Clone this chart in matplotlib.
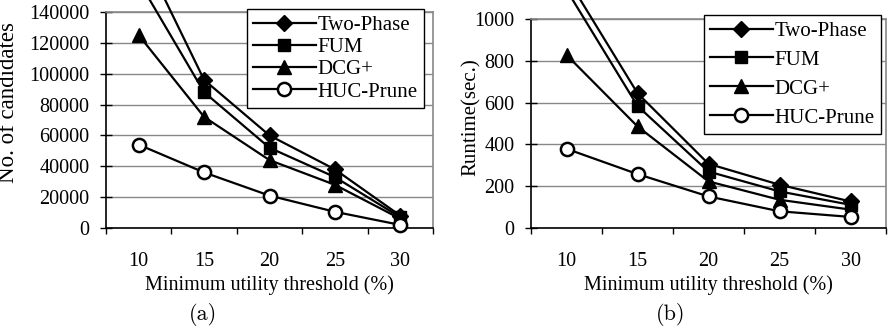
import matplotlib
matplotlib.use("Agg")
import matplotlib.pyplot as plt

thresholds = ["10", "15", "20", "25", "30"]
series_names = ["Two-Phase", "FUM", "DCG+", "HUC-Prune"]

# no. of candidates (panel a)
cand_two_phase = [183000, 96000, 60000, 38000, 8000]
cand_fum = [160000, 88000, 52000, 33000, 7000]
cand_dcg = [125000, 72000, 44000, 28000, 6000]
cand_huc = [54000, 36000, 21000, 10500, 2000]

# runtime in seconds (panel b)
rt_two_phase = [1200, 645, 307, 207, 127]
rt_fum = [1140, 584, 270, 175, 111]
rt_dcg = [828, 486, 223, 135, 88]
rt_huc = [379, 258, 151, 80, 53]

plt.rcParams['font.family'] = ['Liberation Serif', 'DejaVu Serif']

markers = [
    dict(marker='D', markersize=8, markerfacecolor='black'),
    dict(marker='s', markersize=9, markerfacecolor='black'),
    dict(marker='^', markersize=10, markerfacecolor='black'),
    dict(marker='o', markersize=9.5, markerfacecolor='white', markeredgewidth=1.8),
]

fig = plt.figure(figsize=(8.88, 3.35), dpi=100)
ax1 = fig.add_axes([106 / 888, 107 / 335, 327 / 888, 216 / 335])
ax2 = fig.add_axes([531 / 888, 107 / 335, 355 / 888, 209 / 335])


def draw(ax, data, ymax, ystep, ylabel, ylabel_size, ylabel_pos):
    x = list(range(len(thresholds)))
    for vals, name, mk in zip(data, series_names, markers):
        ax.plot(x, vals, color='black', lw=1.6, markeredgecolor='black',
                label=name, clip_on=False, zorder=3, **mk)
    ax.set_xlim(-0.5, len(thresholds) - 0.5)
    ax.set_ylim(0, ymax)
    ax.set_yticks(range(0, ymax + 1, ystep))
    ax.set_xticks(x)
    ax.set_xticklabels(thresholds)
    ax.set_xticks([i - 0.5 for i in range(len(thresholds) + 1)], minor=True)
    ax.tick_params(axis='x', which='major', length=0, pad=17, labelsize=14.5)
    ax.tick_params(axis='x', which='minor', length=4, width=1, direction='out')
    ax.tick_params(axis='y', length=8, width=1, direction='inout', pad=8,
                   labelsize=14.5)
    ax.yaxis.grid(True, color='#888888', lw=1)
    ax.set_axisbelow(True)
    for s in ['top', 'right']:
        ax.spines[s].set_color('#888888')
        ax.spines[s].set_linewidth(1.2)
    for s in ['left', 'bottom']:
        ax.spines[s].set_linewidth(1.2)
    ax.set_xlabel("Minimum utility threshold (%)", fontsize=14.5, labelpad=3)
    ax.set_ylabel(ylabel, fontsize=ylabel_size)
    ax.yaxis.set_label_coords(*ylabel_pos)


draw(ax1, [cand_two_phase, cand_fum, cand_dcg, cand_huc], 140000, 20000,
     "No. of candidates", 16.5, (-0.265, 0.58))
draw(ax2, [rt_two_phase, rt_fum, rt_dcg, rt_huc], 1000, 200, "Runtime(sec.)",
     15, (-0.14, 0.53))

for ax, anchor, spacing in [(ax1, (424 / 888, 1 - 9 / 335), 0.13),
                            (ax2, (881 / 888, 1 - 15 / 335), 0.45)]:
    leg = ax.legend(loc='upper right', bbox_to_anchor=anchor,
                    bbox_transform=fig.transFigure, fontsize=15, frameon=True,
                    fancybox=False, edgecolor='black', framealpha=1,
                    handlelength=3.0, handletextpad=0.1, borderpad=0.3,
                    labelspacing=spacing, borderaxespad=0)
    leg.get_frame().set_linewidth(1.0)
    leg.set_zorder(5)

fig.text(203 / 888, 1 - 315 / 335, "(a)", ha='center', va='center',
         fontsize=16, family='cmr10')
fig.text(671 / 888, 1 - 315 / 335, "(b)", ha='center', va='center',
         fontsize=16, family='cmr10')

fig.savefig("out.png", dpi=100)
